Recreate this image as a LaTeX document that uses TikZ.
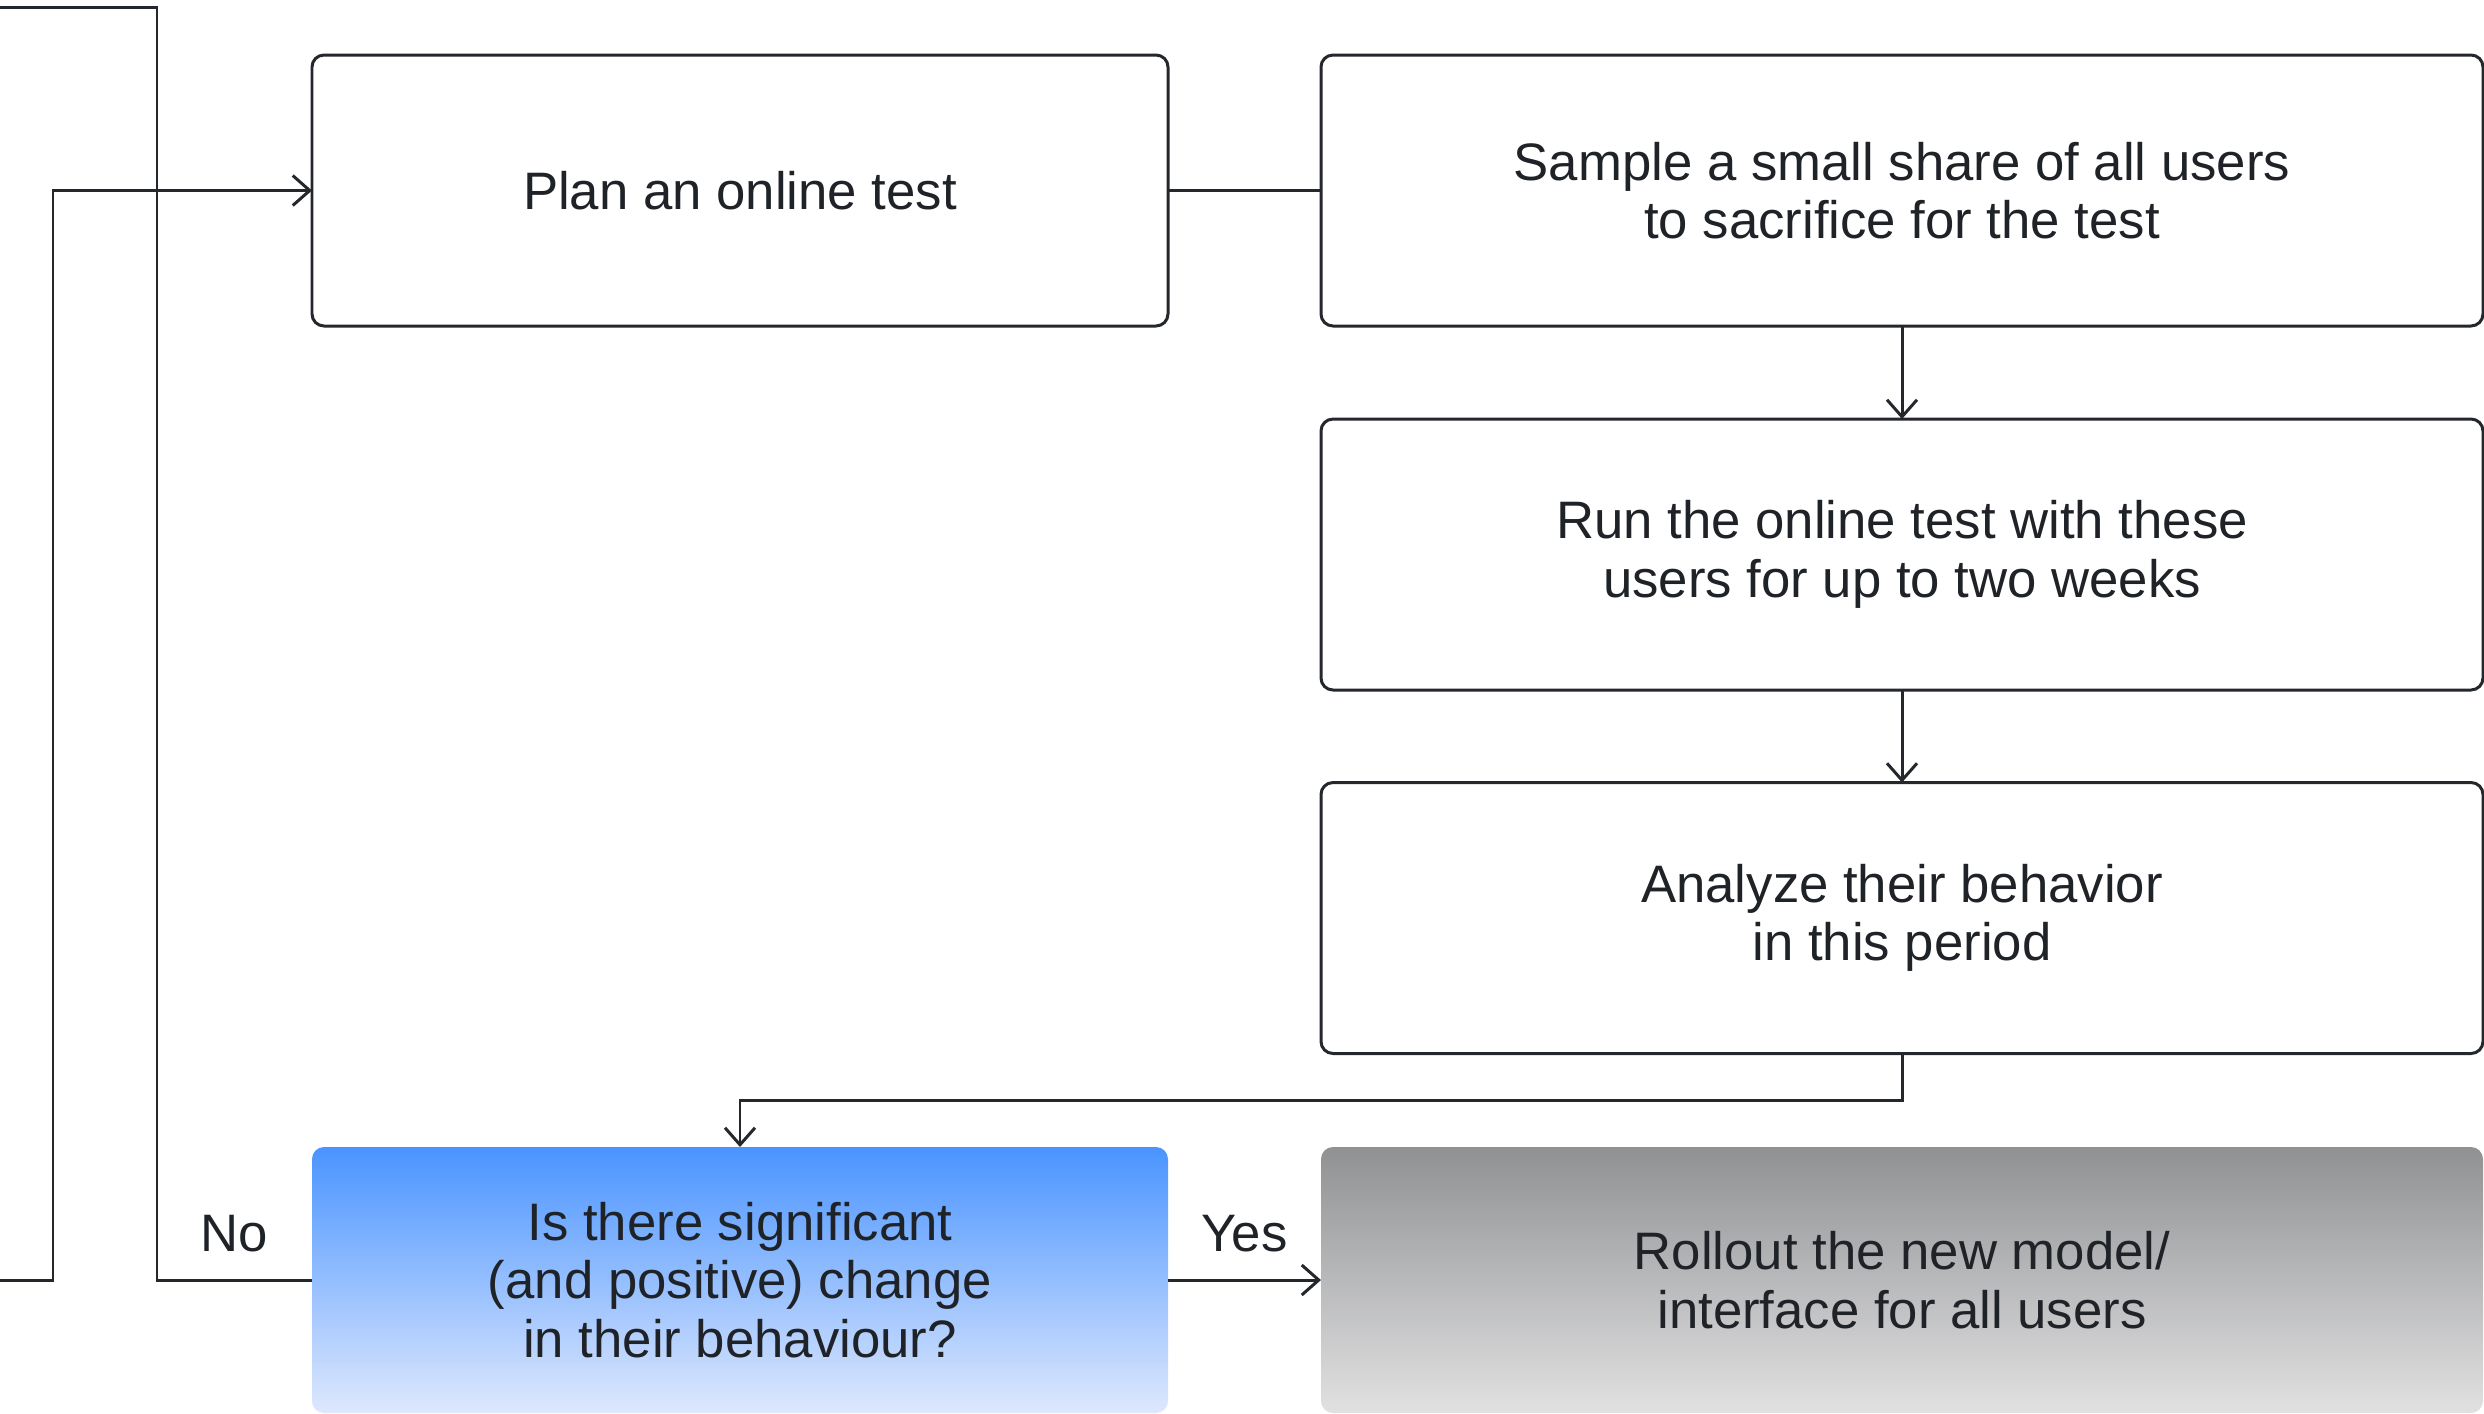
\documentclass[tikz,border=0pt]{standalone}
\usepackage{fontspec}
\setmainfont{Liberation Sans}
\usetikzlibrary{arrows.meta}
\definecolor{ink}{HTML}{1F2328}
\definecolor{wire}{HTML}{24272B}
\definecolor{bluetop}{HTML}{4A94FF}
\definecolor{bluebot}{HTML}{DEE8FD}
\definecolor{greytop}{HTML}{909193}
\definecolor{greybot}{HTML}{E1E1E2}

\begin{document}
\begin{tikzpicture}[box/.style = {rounded corners = 1.2mm, minimum height = 2.71cm, inner sep = 0pt, outer sep = 0pt, align = center, text = ink, font = \fontsize{15}{16.7}\selectfont},
  step box/.style = {box, draw = wire, line width = .85pt},
  ask/.style = {box, minimum height = 2.66cm, top color = bluetop, bottom color = bluebot},
  done/.style = {box, minimum height = 2.66cm, top color = greytop, bottom color = greybot},
  wire/.style = {draw = wire, line width = .85pt},
  go/.style = {wire, -{Straight Barb[length = 1.7mm, width = 3mm]}},
  answer/.style = {above, inner sep = 7.5pt, text = ink, font = \fontsize{15}{16.7}\selectfont}]
        \useasboundingbox (0, 0) rectangle (24.84, -14.13);

        \node [step box, minimum width = 8.56cm] (plan) at (7.40, -1.905) {Plan an online test};
        \node [step box, minimum width = 11.62cm] (sample) at (19.02, -1.905) {Sample a small share of all users\\to sacrifice for the test};
        \node [step box, minimum width = 11.62cm] (run) at (19.02, -5.545) {Run the online test with these\\users for up to two weeks};
        \node [step box, minimum width = 11.62cm] (analyze) at (19.02, -9.18) {Analyze their behavior\\in this period};
        \node [ask, minimum width = 8.56cm] (decide) at (7.40, -12.80) {Is there significant\\(and positive) change\\in their behaviour?};
        \node [done, minimum width = 11.62cm] (rollout) at (19.02, -12.80) {Rollout the new model/\\interface for all users};

        \coordinate (back) at (0, -0.07);
        \coordinate (from) at (0, -12.80);

        \draw [wire] (plan) -- (sample);
        \foreach \a/\b in {sample/run, run/analyze}
                 {
                   \draw [go] (\a) -- (\b);
                 }
        \draw [go] (analyze.south) -- ++(0, -.47) -| (decide.north);
        \draw [go] (decide) -- node[answer] {Yes} (rollout);
        \draw [wire] (decide.west) -- node[answer] {No} (1.57, -12.80) |- (back);
        \draw [go] (from) -- (0.53, -12.80) |- (plan.west);
      \end{tikzpicture}
\end{document}
